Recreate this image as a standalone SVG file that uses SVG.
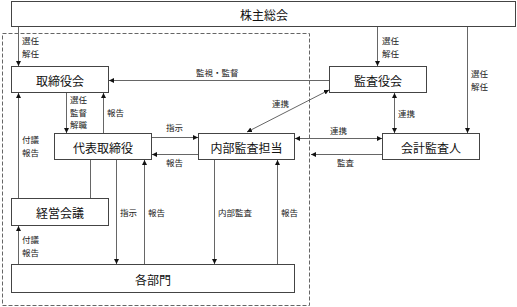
<svg xmlns="http://www.w3.org/2000/svg" width="517" height="307" viewBox="0 0 517 307">
<style>
.box{fill:#fff;stroke:#444;stroke-width:1}
.nt{font-family:"Noto Sans CJK JP","Liberation Sans",sans-serif;font-size:12px;fill:#111;text-anchor:middle;dominant-baseline:central}
.lb{font-family:"Noto Sans CJK JP","Liberation Sans",sans-serif;font-size:8.5px;fill:#222}
.c{fill:none;stroke:#666;stroke-width:1}
.d{fill:none;stroke:#666;stroke-width:1;stroke-dasharray:4,2}
</style>
<defs>
<marker id="ah" viewBox="0 0 6 6" refX="6" refY="3" markerWidth="5" markerHeight="5" orient="auto-start-reverse" markerUnits="userSpaceOnUse">
<path d="M0,0 L6,3 L0,6 Z" fill="#111"/>
</marker>
</defs>
<rect class="d" x="2.5" y="33.5" width="307" height="272"/>
<g id="connectors">
<line class="c" x1="18.5" y1="27" x2="18.5" y2="66" marker-end="url(#ah)"/>
<line class="c" x1="377.5" y1="27" x2="377.5" y2="66" marker-end="url(#ah)"/>
<line class="c" x1="467.5" y1="27" x2="467.5" y2="133" marker-end="url(#ah)"/>
<line class="c" x1="329" y1="80.5" x2="109" y2="80.5" marker-end="url(#ah)"/>
<line class="c" x1="66.5" y1="93" x2="66.5" y2="133" marker-end="url(#ah)"/>
<line class="c" x1="103.5" y1="133" x2="103.5" y2="93" marker-end="url(#ah)"/>
<line class="c" x1="18.5" y1="198" x2="18.5" y2="93" marker-end="url(#ah)"/>
<line class="c" x1="90.5" y1="160" x2="90.5" y2="198"/>
<line class="c" x1="18.5" y1="264" x2="18.5" y2="226" marker-end="url(#ah)"/>
<line class="c" x1="116.5" y1="160" x2="116.5" y2="264" marker-end="url(#ah)"/>
<line class="c" x1="144.5" y1="264" x2="144.5" y2="160" marker-end="url(#ah)"/>
<line class="c" x1="152" y1="137.5" x2="198" y2="137.5" marker-end="url(#ah)"/>
<line class="c" x1="198" y1="154.5" x2="152" y2="154.5" marker-end="url(#ah)"/>
<line class="c" x1="214.5" y1="160" x2="214.5" y2="264" marker-end="url(#ah)"/>
<line class="c" x1="277.5" y1="264" x2="277.5" y2="160" marker-end="url(#ah)"/>
<line class="c" x1="247" y1="132" x2="329" y2="90" marker-start="url(#ah)" marker-end="url(#ah)"/>
<line class="c" x1="394.5" y1="93" x2="394.5" y2="133" marker-start="url(#ah)" marker-end="url(#ah)"/>
<line class="c" x1="295" y1="138.5" x2="382" y2="138.5" marker-start="url(#ah)" marker-end="url(#ah)"/>
<line class="c" x1="382" y1="154.5" x2="311" y2="154.5" marker-end="url(#ah)"/>
</g>
<g id="labels">
<text class="lb" x="22" y="44">選任</text>
<text class="lb" x="22" y="56.5">解任</text>
<text class="lb" x="382" y="44">選任</text>
<text class="lb" x="382" y="56.5">解任</text>
<text class="lb" x="471" y="77">選任</text>
<text class="lb" x="471" y="89.5">解任</text>
<text class="lb" x="196" y="76">監視・監督</text>
<text class="lb" x="70" y="103">選任</text>
<text class="lb" x="70" y="115.5">監督</text>
<text class="lb" x="70" y="128">解職</text>
<text class="lb" x="107" y="116">報告</text>
<text class="lb" x="22" y="143">付議</text>
<text class="lb" x="22" y="155.5">報告</text>
<text class="lb" x="22" y="243">付議</text>
<text class="lb" x="22" y="255.5">報告</text>
<text class="lb" x="166" y="131">指示</text>
<text class="lb" x="166" y="166">報告</text>
<text class="lb" x="120" y="216">指示</text>
<text class="lb" x="148" y="216">報告</text>
<text class="lb" x="218" y="216">内部監査</text>
<text class="lb" x="281" y="216">報告</text>
<text class="lb" x="272" y="107">連携</text>
<text class="lb" x="398" y="117">連携</text>
<text class="lb" x="330" y="134">連携</text>
<text class="lb" x="337" y="166">監査</text>
</g>
<g id="n-kabunushi"><rect class="box" x="11.5" y="1.5" width="504" height="25"/><text class="nt" x="264" y="14.5">株主総会</text></g>
<g id="n-torishimariyakukai"><rect class="box" x="11.5" y="66.5" width="97" height="26"/><text class="nt" x="60" y="80">取締役会</text></g>
<g id="n-kansayakukai"><rect class="box" x="329.5" y="66.5" width="97" height="26"/><text class="nt" x="378" y="80">監査役会</text></g>
<g id="n-daihyo"><rect class="box" x="54.5" y="133.5" width="97" height="26"/><text class="nt" x="103" y="147">代表取締役</text></g>
<g id="n-naibu"><rect class="box" x="198.5" y="133.5" width="96" height="26"/><text class="nt" x="246.5" y="147">内部監査担当</text></g>
<g id="n-kaikei"><rect class="box" x="382.5" y="133.5" width="97" height="26"/><text class="nt" x="431" y="147">会計監査人</text></g>
<g id="n-keiei"><rect class="box" x="11.5" y="198.5" width="97" height="27"/><text class="nt" x="60" y="212">経営会議</text></g>
<g id="n-kakubumon"><rect class="box" x="11.5" y="264.5" width="283" height="28"/><text class="nt" x="153" y="279">各部門</text></g>
</svg>
